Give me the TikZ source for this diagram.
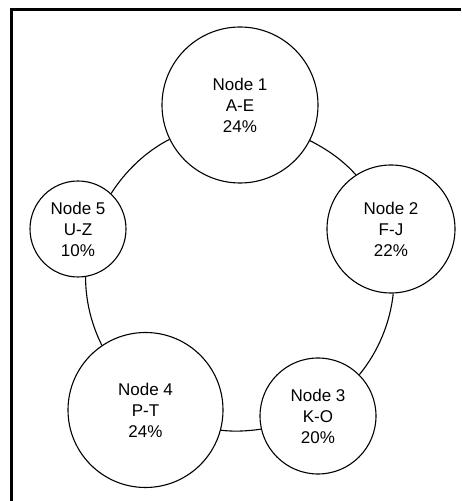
\documentclass[tikz,border=0pt]{standalone}
\usepackage{fontspec}
\setmainfont{Liberation Sans}
\begin{document}
\begin{tikzpicture}[x=1pt,y=1pt,
  ringnode/.style={circle, draw=black, line width=1.1pt, fill=white,
    inner sep=0pt, align=center,
    font=\fontsize{17pt}{21pt}\selectfont},
  ringlink/.style={draw=black, line width=1.1pt, looseness=0.86}]
  \useasboundingbox (0,0) rectangle (461,501);

  % frame along the top and left edges
  \draw[line width=2.6pt] (11.2,0) -- (11.2,491.7) -- (461,491.7);

  % the five nodes of the ring
  \node[ringnode, minimum size=156pt] (n1) at (240,396)   {Node 1\\A-E\\24\%};
  \node[ringnode, minimum size=128pt] (n2) at (391,272)   {Node 2\\F-J\\22\%};
  \node[ringnode, minimum size=116pt] (n3) at (318,85)    {Node 3\\K-O\\20\%};
  \node[ringnode, minimum size=155pt] (n4) at (145.5,91)  {Node 4\\P-T\\24\%};
  \node[ringnode, minimum size=96pt]  (n5) at (78,272)    {Node 5\\U-Z\\10\%};

  % arcs of the ring between neighbouring nodes
  \draw[ringlink] (n1.333.5) to[out=-27,    in=131.2]  (n2.123.3);
  \draw[ringlink] (n2.272)   to[out=-95.95, in=50.55]  (n3.45.1);
  \draw[ringlink] (n3.193.5) to[out=-171.95,in=-7.3]   (n4.345.2);
  \draw[ringlink] (n4.124)   to[out=116.5,  in=269.75] (n5.279.6);
  \draw[ringlink] (n5.47.4)  to[out=57.25,  in=207]    (n1.206.5);
\end{tikzpicture}
\end{document}
